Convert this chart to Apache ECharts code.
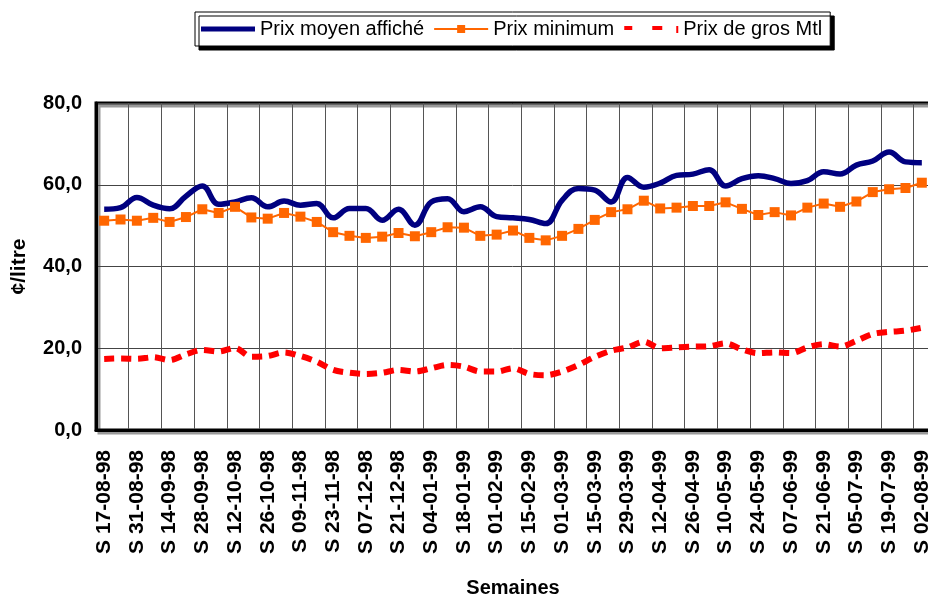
<!DOCTYPE html>
<html>
<head>
<meta charset="utf-8">
<script src="https://cdn.jsdelivr.net/npm/echarts@6/dist/echarts.min.js"></script>
<style>
  html, body { margin: 0; padding: 0; background: #fff; }
  #chart { width: 928px; height: 597px; }
</style>
</head>
<body>
<div id="chart"></div>
<script>
// semaines (une valeur par semaine)
const weeks = [
  '17-08-98','24-08-98','31-08-98','07-09-98','14-09-98','21-09-98','28-09-98','05-10-98','12-10-98','19-10-98',
  '26-10-98','02-11-98','09-11-98','16-11-98','23-11-98','30-11-98','07-12-98','14-12-98','21-12-98','28-12-98',
  '04-01-99','11-01-99','18-01-99','25-01-99','01-02-99','08-02-99','15-02-99','22-02-99','01-03-99','08-03-99',
  '15-03-99','22-03-99','29-03-99','05-04-99','12-04-99','19-04-99','26-04-99','03-05-99','10-05-99','17-05-99',
  '24-05-99','31-05-99','07-06-99','14-06-99','21-06-99','28-06-99','05-07-99','12-07-99','19-07-99','26-07-99',
  '02-08-99'
];

const prixMoyen = [
  54.0, 54.4, 56.9, 55.0, 54.1, 57.2, 59.7, 55.2, 55.8, 56.8,
  54.6, 56.0, 55.0, 55.4, 51.9, 54.2, 54.2, 51.3, 54.0, 50.1,
  55.8, 56.6, 53.4, 54.6, 52.2, 51.9, 51.5, 50.5, 56.2, 59.1,
  58.7, 55.8, 61.8, 59.4, 60.4, 62.3, 62.6, 63.7, 59.7, 61.5,
  62.2, 61.5, 60.3, 61.0, 63.2, 62.6, 64.8, 65.8, 68.0, 65.6,
  65.4
];

const prixMinimum = [
  51.2, 51.5, 51.2, 51.9, 50.9, 52.1, 54.0, 53.1, 54.6, 52.0,
  51.7, 53.1, 52.2, 50.9, 48.4, 47.5, 47.0, 47.3, 48.2, 47.4,
  48.4, 49.6, 49.5, 47.5, 47.8, 48.8, 47.0, 46.4, 47.5, 49.2,
  51.4, 53.3, 54.0, 56.1, 54.2, 54.4, 54.8, 54.8, 55.7, 54.1,
  52.6, 53.3, 52.5, 54.4, 55.4, 54.6, 55.9, 58.2, 58.9, 59.2,
  60.5
];

const prixGros = [
  17.4, 17.5, 17.4, 17.8, 17.1, 18.5, 19.6, 19.2, 20.1, 17.9,
  18.1, 19.0, 18.1, 16.7, 14.7, 14.0, 13.7, 14.0, 14.7, 14.3,
  15.1, 15.9, 15.5, 14.3, 14.3, 15.1, 13.7, 13.4, 14.3, 15.9,
  17.9, 19.4, 20.2, 21.6, 20.0, 20.2, 20.4, 20.5, 21.2, 19.7,
  18.8, 19.0, 18.8, 20.2, 21.0, 20.4, 21.8, 23.5, 24.0, 24.3,
  25.0
];

const font = 'Liberation Sans, Arial, sans-serif';

// icones de la légende (boîte 54 x 14)
const iconMoyen = 'path://M0,0M54,14M0,4.5H54V9.5H0Z';
const iconMin = 'path://M0,0M54,14M0,6H23V3H31V6H54V8H31V11H23V8H0Z';
const iconGros = 'path://M0,0M54,14M0,4H8V8H0ZM28,4H38V8H28ZM52,4H54V11H52Z';

const chart = echarts.init(document.getElementById('chart'));
chart.setOption({
  animation: false,
  backgroundColor: '#fff',
  textStyle: { fontFamily: font },
  legend: {
    left: 195,
    top: 12,
    itemGap: 10,
    itemWidth: 54,
    itemHeight: 14,
    padding: [7, 8, 7, 6],
    borderColor: '#000',
    borderWidth: 1,
    backgroundColor: '#fff',
    shadowColor: '#000',
    shadowOffsetX: 4,
    shadowOffsetY: 4,
    shadowBlur: 0,
    itemStyle: { borderWidth: 0 },
    textStyle: { fontFamily: font, fontSize: 20, color: '#000' },
    data: [
      { name: 'Prix moyen affiché', icon: iconMoyen },
      { name: 'Prix minimum', icon: iconMin },
      { name: 'Prix de gros Mtl', icon: iconGros }
    ]
  },
  grid: {
    left: 96,
    top: 103,
    right: -2,
    bottom: 167,
    outerBoundsMode: 'none',
    show: true,
    borderColor: '#000',
    borderWidth: 3,
    backgroundColor: '#fff',
    shadowColor: '#999',
    shadowOffsetX: 3,
    shadowOffsetY: 3,
    shadowBlur: 0
  },
  xAxis: {
    type: 'category',
    data: weeks,
    boundaryGap: true,
    name: 'Semaines',
    nameLocation: 'middle',
    nameGap: 148,
    nameTextStyle: { fontFamily: font, fontSize: 20, fontWeight: 'bold', color: '#000' },
    axisLine: { lineStyle: { color: '#000', width: 3 } },
    axisTick: { show: false, interval: 1 },
    axisLabel: {
      interval: 1,
      rotate: 90,
      margin: 20,
      fontFamily: font,
      fontSize: 21,
      fontWeight: 'bold',
      color: '#000',
      formatter: v => 'S ' + v
    },
    splitLine: { show: true, interval: 1, lineStyle: { color: '#555', width: 1 } }
  },
  yAxis: {
    type: 'value',
    min: 0,
    max: 80,
    interval: 20,
    name: '¢/litre',
    nameLocation: 'middle',
    nameGap: 66,
    nameRotate: 90,
    nameTextStyle: { fontFamily: font, fontSize: 21, fontWeight: 'bold', color: '#000' },
    axisLine: { show: true, lineStyle: { color: '#000', width: 3 } },
    axisTick: { show: false },
    axisLabel: {
      margin: 14,
      fontFamily: font,
      fontSize: 20,
      fontWeight: 'bold',
      color: '#000',
      formatter: v => v.toFixed(1).replace('.', ',')
    },
    splitLine: { show: true, lineStyle: { color: '#444', width: 1 } }
  },
  series: [
    {
      name: 'Prix moyen affiché',
      type: 'line',
      data: prixMoyen,
      smooth: 0.4,
      symbol: 'none',
      itemStyle: { color: '#000080' },
      lineStyle: { color: '#000080', width: 5.5 }
    },
    {
      name: 'Prix minimum',
      type: 'line',
      data: prixMinimum,
      symbol: 'rect',
      symbolSize: 10,
      itemStyle: { color: '#ff6600' },
      lineStyle: { color: '#ff6600', width: 2 }
    },
    {
      name: 'Prix de gros Mtl',
      type: 'line',
      data: prixGros,
      smooth: 0.3,
      symbol: 'none',
      itemStyle: { color: '#ff0000' },
      lineStyle: { color: '#ff0000', width: 6, type: [10, 7] }
    }
  ]
});
</script>
</body>
</html>
